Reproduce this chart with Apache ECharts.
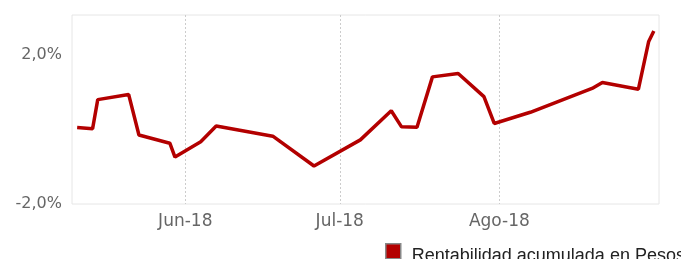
<!DOCTYPE html>
<html>
<head>
    <meta charset="utf-8">
    <script src="https://cdn.jsdelivr.net/npm/echarts@6.0.0/dist/echarts.min.js"></script>
</head>
<body style="margin:0;">
    <div id="container" style="width: 681px;height: 259px;"></div>
    <script type="text/javascript">
        // fechas y rentabilidad acumulada (%)
        var fechas = ['2018-05-11', '2018-05-14', '2018-05-15', '2018-05-21', '2018-05-23', '2018-05-29', '2018-05-30',
            '2018-06-04', '2018-06-07', '2018-06-18', '2018-06-26', '2018-07-05', '2018-07-11', '2018-07-13',
            '2018-07-16', '2018-07-19', '2018-07-24', '2018-07-29', '2018-07-31', '2018-08-07', '2018-08-19',
            '2018-08-21', '2018-08-28', '2018-08-30', '2018-08-31'];
        var rentabilidad = [0.05, 0.02, 0.80, 0.94, -0.15, -0.37, -0.74,
            -0.33, 0.09, -0.18, -0.98, -0.28, 0.50, 0.07,
            0.06, 1.41, 1.50, 0.88, 0.16, 0.46, 1.10,
            1.26, 1.08, 2.36, 2.64];
        var meses = ['Ene', 'Feb', 'Mar', 'Abr', 'May', 'Jun', 'Jul', 'Ago', 'Sep', 'Oct', 'Nov', 'Dic'];
        var nombreSerie = 'Rentabilidad acumulada en Pesos';

        var data = [];
        for (var i = 0; i < fechas.length; i++) {
            data.push([fechas[i], rentabilidad[i]]);
        }

        var myChart = echarts.init(document.getElementById('container'));
        var option = {
            animation: false,
            grid: {
                left: 72, right: 22, top: 15, bottom: 55,
                show: true, borderColor: '#e6e6e6', borderWidth: 1
            },
            legend: {
                left: 385, top: 243,
                padding: 0,
                // cuadrado arriba, el texto queda un poco más abajo
                itemWidth: 15, itemHeight: 25,
                icon: 'path://M0,0h15v15h-15z M15,25',
                itemStyle: { borderColor: '#888', borderWidth: 1.5 },
                textStyle: { fontFamily: 'Liberation Sans', fontSize: 18, color: '#222', padding: [0, 0, 0, 6] },
                data: [nombreSerie]
            },
            xAxis: {
                type: 'time',
                min: '2018-05-10',
                max: '2018-09-01',
                minInterval: 28 * 24 * 3600 * 1000,
                maxInterval: 31 * 24 * 3600 * 1000,
                axisLine: { show: false },
                axisTick: { show: false },
                axisLabel: {
                    showMinLabel: false,
                    showMaxLabel: false,
                    fontFamily: 'DejaVu Sans',
                    fontSize: 17,
                    color: '#666',
                    margin: 9,
                    formatter: function (v) {
                        var d = new Date(v);
                        if (d.getDate() !== 1 || d.getHours() !== 0) return '';
                        return meses[d.getMonth()] + '-' + String(d.getFullYear()).slice(2);
                    }
                },
                splitLine: {
                    show: true, showMinLine: false, showMaxLine: false,
                    lineStyle: { color: '#ccc', type: [2, 2], width: 1 }
                }
            },
            yAxis: {
                type: 'value',
                min: -2,
                max: 3.07,
                interval: 4,
                axisLine: { show: false },
                axisTick: { show: false },
                splitLine: { show: false },
                axisLabel: {
                    showMaxLabel: false,
                    fontFamily: 'DejaVu Sans',
                    fontSize: 16,
                    color: '#666',
                    margin: 10,
                    formatter: function (v) {
                        return v.toFixed(1).replace('.', ',') + '%';
                    }
                }
            },
            series: [{
                name: nombreSerie,
                type: 'line',
                data: data,
                showSymbol: false,
                symbol: 'none',
                color: '#b30000',
                lineStyle: { color: '#b30000', width: 3.5 }
            }]
        };
        myChart.setOption(option);
    </script>
</body>
</html>
